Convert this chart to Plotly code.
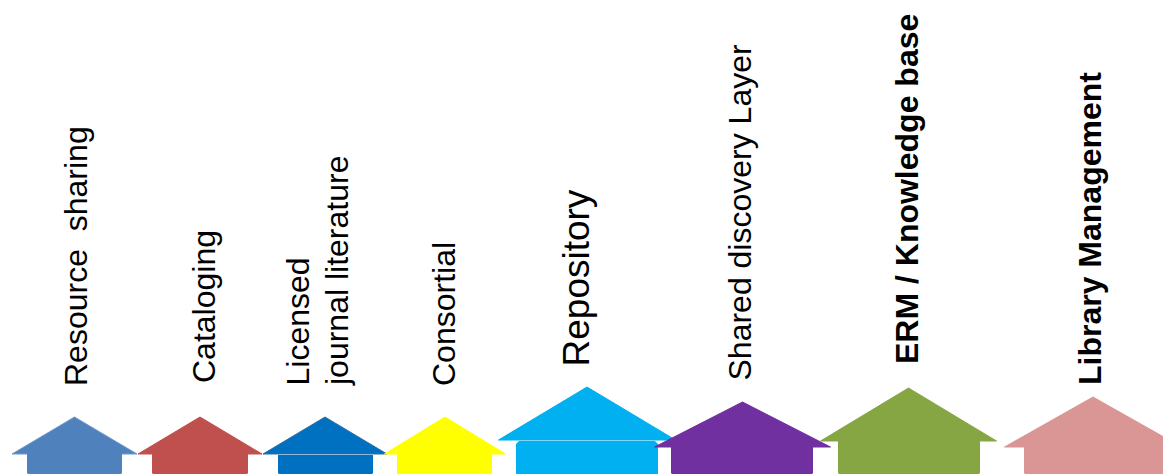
import plotly.graph_objects as go

labels = ["Resource  sharing", "Cataloging", "Licensed", "journal literature", "Consortial",
          "Repository", "Shared discovery Layer", "<b>ERM / Knowledge base</b>", "<b>Library Management</b>"]
text_x = [76, 203.5, 297.5, 337, 444, 575.5, 739, 907, 1090]
text_y = [388, 385, 388, 388, 388, 368.5, 383, 366, 387.5]
font_px = [32, 32, 32, 32, 32, 37, 32, 32, 32]

colors = ["#4f81bd", "#c0504d", "#0070c0", "#ffff00", "#00b0f0", "#7030a0", "#86a644", "#d99694"]
edges = ["#6f97c9", "#c0504d", "#2a6ea6", "#ffff00", "#00b0f0", "#7030a0", "#86a644", "#d99694"]
center = [74.5, 200, 325, 445, 587, 742.5, 908.5, 1093]
roof_half = [62.5, 62, 62, 60.5, 88.5, 88, 88, 88.5]
peak_y = [417, 417, 417, 417, 387, 402, 388, 397]
eave_y = [454, 454, 454, 454, 440, 447, 441, 447]
body_top = [453, 453, 455, 453, 441, 446, 440, 446]
body_left = [27, 152, 278, 397, 516, 671, 838, 1024]
body_right = [122, 248, 373, 492, 658, 813, 980, 1166]
body_bottom = [474] * 8
top_corner = [0, 0, 0, 0, 3, 0, 0, 0]
bottom_corner = [1, 1, 1, 0, 0, 1, 1, 1]

fig = go.Figure()
for i in range(8):
    c, r = center[i], roof_half[i]
    fig.add_trace(go.Scatter(x=[c - r, c, c + r, c - r], y=[eave_y[i], peak_y[i], eave_y[i], eave_y[i]],
                             mode="lines", fill="toself", fillcolor=colors[i],
                             line=dict(color=edges[i], width=1), hoverinfo="skip", showlegend=False))
    L, R, T, B, tc, bc = body_left[i], body_right[i], body_top[i], body_bottom[i], top_corner[i], bottom_corner[i]
    fig.add_trace(go.Scatter(x=[L + tc, R - tc, R, R, R - bc, L + bc, L, L, L + tc],
                             y=[T, T, T + tc, B - bc, B, B, B - bc, T + tc, T],
                             mode="lines", fill="toself", fillcolor=colors[i],
                             line=dict(color=colors[i], width=0), hoverinfo="skip", showlegend=False))

for i in range(len(labels)):
    fig.add_annotation(x=text_x[i], y=text_y[i], text=labels[i], textangle=-90, showarrow=False,
                       xanchor="center", yanchor="bottom", align="left",
                       font=dict(family="Liberation Sans", size=font_px[i], color="#000000"))

fig.update_layout(width=1163, height=474, margin=dict(l=0, r=0, t=0, b=0),
                  paper_bgcolor="white", plot_bgcolor="white",
                  xaxis=dict(range=[0, 1163], visible=False, fixedrange=True),
                  yaxis=dict(range=[474, 0], visible=False, fixedrange=True))
fig.write_html("out.html", config={"displayModeBar": False},
               post_script="document.body.style.margin='0';document.documentElement.style.overflow='hidden';")
